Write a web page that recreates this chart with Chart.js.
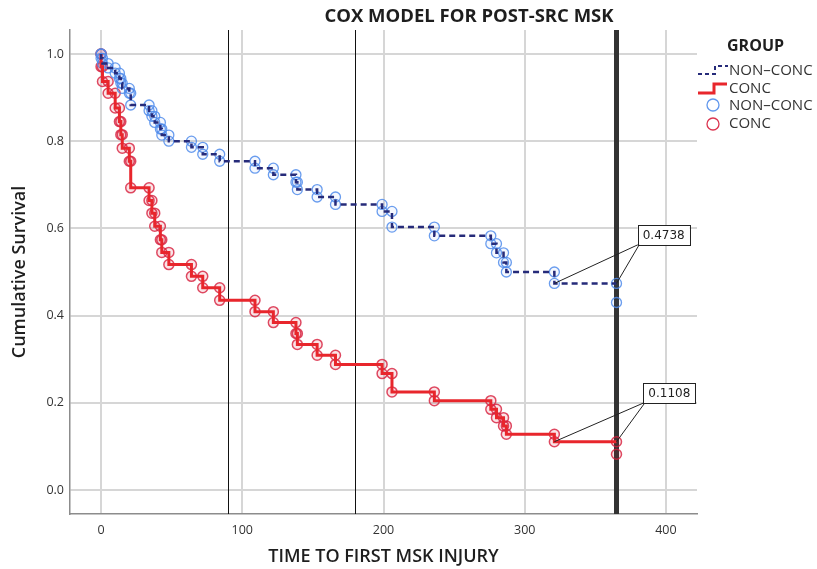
<!DOCTYPE html>
<html>
<head>
<meta charset="utf-8">
<script src="https://cdn.jsdelivr.net/npm/chart.js@4/dist/chart.umd.min.js"></script>
<style>
  html, body { margin: 0; padding: 0; background: #fff; }
  #wrap { width: 817px; height: 569px; position: relative; }
</style>
</head>
<body>
<div id="wrap"><canvas id="cox"></canvas></div>
<script>
// event times (days) and cumulative survival after each drop
const times = [0, 1, 5, 10, 13, 14, 15, 20, 21, 34, 36, 38, 42, 43, 48, 64, 72, 84, 109, 122, 138, 139, 153, 166, 199, 206, 236, 276, 280, 285, 287, 321];
const nonConc = [0.990, 0.978, 0.968, 0.956, 0.944, 0.933, 0.921, 0.910, 0.883, 0.870, 0.857, 0.843, 0.828, 0.814, 0.800, 0.786, 0.770, 0.754, 0.738, 0.723, 0.706, 0.689, 0.672, 0.655, 0.639, 0.603, 0.583, 0.565, 0.544, 0.522, 0.500, 0.4738];
const conc = [0.971, 0.937, 0.910, 0.876, 0.845, 0.815, 0.784, 0.754, 0.693, 0.664, 0.635, 0.605, 0.574, 0.545, 0.517, 0.490, 0.464, 0.435, 0.409, 0.384, 0.359, 0.334, 0.309, 0.288, 0.267, 0.225, 0.205, 0.185, 0.166, 0.147, 0.128, 0.1108];
const followUp = 365;
const nonConcEnd = [0.4738, 0.43];
const concEnd = [0.1108, 0.082];
const refLines = [90, 180];
const xTicks = [0, 100, 200, 300, 400];
const yTicks = [0.0, 0.2, 0.4, 0.6, 0.8, 1.0];
const labels = ["0.4738", "0.1108"];

const stepData = (s) => {
  let d = [{ x: 0, y: 1.0 }];
  times.forEach((t, i) => d.push({ x: t, y: s[i] }));
  d.push({ x: followUp, y: s[s.length - 1] });
  return d;
};
const circleData = (s, end) => {
  let d = [{ x: 0, y: 1.0 }];
  times.forEach((t, i) => {
    d.push({ x: t, y: i == 0 ? 1.0 : s[i - 1] });
    d.push({ x: t, y: s[i] });
  });
  end.forEach((v) => d.push({ x: followUp, y: v }));
  return d;
};

const navy = "#262b7a";
const red = "#e8262c";
const font = "'Open Sans', 'DejaVu Sans', sans-serif";

const overlay = {
  id: "overlay",
  beforeDatasetsDraw(chart) {
    const { ctx, chartArea: { top, bottom }, scales: { x } } = chart;
    ctx.save();
    ctx.strokeStyle = "#111";
    ctx.lineWidth = 1;
    refLines.forEach((v) => {
      const px = Math.round(x.getPixelForValue(v)) + 0.5;
      ctx.beginPath();
      ctx.moveTo(px, top);
      ctx.lineTo(px, bottom);
      ctx.stroke();
    });
    ctx.strokeStyle = "#333";
    ctx.lineWidth = 5;
    const fx = x.getPixelForValue(followUp);
    ctx.beginPath();
    ctx.moveTo(fx, top);
    ctx.lineTo(fx, bottom);
    ctx.stroke();
    ctx.restore();
  },
  afterDatasetsDraw(chart) {
    const { ctx, scales: { x, y } } = chart;
    ctx.save();
    // value boxes
    const boxes = [
      { s: nonConc, txt: labels[0], bx: 380, by: 0.608 },
      { s: conc, txt: labels[1], bx: 384, by: 0.245 },
    ];
    ctx.font = "12px 'DejaVu Sans', sans-serif";
    boxes.forEach((b) => {
      const last = b.s[b.s.length - 1];
      const left = x.getPixelForValue(b.bx);
      const top = y.getPixelForValue(b.by);
      const w = ctx.measureText(b.txt).width + 10;
      const h = 20;
      ctx.strokeStyle = "#222";
      ctx.lineWidth = 1;
      ctx.beginPath();
      ctx.moveTo(left + 2, top + h - 1);
      ctx.lineTo(x.getPixelForValue(times[times.length - 1]), y.getPixelForValue(last));
      ctx.moveTo(left + 2, top + h - 1);
      ctx.lineTo(x.getPixelForValue(followUp), y.getPixelForValue(last));
      ctx.stroke();
      ctx.fillStyle = "#fff";
      ctx.fillRect(left, top, w, h);
      ctx.strokeRect(Math.round(left) + 0.5, Math.round(top) + 0.5, w, h);
      ctx.fillStyle = "#222";
      ctx.textBaseline = "middle";
      ctx.textAlign = "left";
      ctx.fillText(b.txt, left + 5, top + h / 2 + 1);
    });
    ctx.restore();
  },
  afterDraw(chart) {
    const { ctx } = chart;
    ctx.save();
    // title
    ctx.fillStyle = "#1e1e1e";
    ctx.font = `700 18.5px ${font}`;
    ctx.textAlign = "center";
    ctx.textBaseline = "middle";
    ctx.fillText("COX MODEL FOR POST-SRC MSK", 469, 17);
    // legend
    ctx.textAlign = "left";
    ctx.font = `700 16px ${font}`;
    ctx.fillText("GROUP", 727, 46);
    ctx.font = `15px ${font}`;
    ctx.fillStyle = "#333";
    ctx.fillText("NON\u2013CONC", 729, 71);
    ctx.fillText("CONC", 729, 89);
    ctx.fillText("NON\u2013CONC", 729, 106);
    ctx.fillText("CONC", 729, 124);
    ctx.lineWidth = 2;
    ctx.strokeStyle = navy;
    ctx.setLineDash([4, 3]);
    ctx.beginPath();
    ctx.moveTo(698, 74);
    ctx.lineTo(715, 74);
    ctx.lineTo(715, 66);
    ctx.lineTo(728, 66);
    ctx.stroke();
    ctx.setLineDash([]);
    ctx.lineWidth = 3;
    ctx.strokeStyle = red;
    ctx.beginPath();
    ctx.moveTo(698, 93);
    ctx.lineTo(714, 93);
    ctx.lineTo(714, 84);
    ctx.lineTo(727, 84);
    ctx.stroke();
    ctx.lineWidth = 1.3;
    ctx.strokeStyle = "rgba(80,140,235,0.9)";
    ctx.beginPath();
    ctx.arc(713, 105, 6, 0, Math.PI * 2);
    ctx.stroke();
    ctx.strokeStyle = "rgba(215,30,60,0.9)";
    ctx.beginPath();
    ctx.arc(713, 124, 6, 0, Math.PI * 2);
    ctx.stroke();
    ctx.restore();
  },
};

new Chart(document.getElementById("cox"), {
  type: "line",
  data: {
    datasets: [
      {
        label: "NON-CONC",
        data: stepData(nonConc),
        stepped: true,
        borderColor: navy,
        borderWidth: 2.5,
        borderDash: [6, 4],
        pointRadius: 0,
        fill: false,
      },
      {
        label: "CONC",
        data: stepData(conc),
        stepped: true,
        borderColor: red,
        borderWidth: 3,
        pointRadius: 0,
        fill: false,
      },
      {
        label: "NON-CONC",
        type: "scatter",
        data: circleData(nonConc, nonConcEnd),
        showLine: false,
        pointRadius: 5,
        pointBorderWidth: 1.3,
        borderColor: "rgba(80,140,235,0.85)",
        backgroundColor: "rgba(80,140,235,0.06)",
      },
      {
        label: "CONC",
        type: "scatter",
        data: circleData(conc, concEnd),
        showLine: false,
        pointRadius: 5,
        pointBorderWidth: 1.5,
        borderColor: "rgba(215,30,60,0.8)",
        backgroundColor: "rgba(215,30,60,0.12)",
      },
    ],
  },
  options: {
    responsive: true,
    maintainAspectRatio: false,
    animation: false,
    layout: { padding: { left: 0, right: 120, top: 30, bottom: 0 } },
    plugins: {
      legend: { display: false },
      title: { display: false },
      tooltip: { enabled: false },
    },
    scales: {
      x: {
        type: "linear",
        min: -22,
        max: 422,
        afterBuildTicks: (s) => { s.ticks = xTicks.map((v) => ({ value: v })); },
        afterFit: (s) => { s.height = 55; },
        grid: { color: "#d6d6d6", lineWidth: 2, drawTicks: false },
        border: { color: "#8c8c8c", width: 1.5 },
        ticks: { padding: 9, color: "#333", font: { size: 12.5, family: font } },
        title: {
          display: true,
          text: "TIME TO FIRST MSK INJURY",
          color: "#1e1e1e",
          font: { size: 18, weight: "600", family: font },
          padding: { top: 0, bottom: 1 },
        },
      },
      y: {
        type: "linear",
        min: -0.055,
        max: 1.055,
        afterBuildTicks: (s) => { s.ticks = yTicks.map((v) => ({ value: v })); },
        afterFit: (s) => { s.width = 70; },
        grid: { color: "#d6d6d6", lineWidth: 2, drawTicks: false },
        border: { color: "#8c8c8c", width: 1.5 },
        ticks: { padding: 6, color: "#333", font: { size: 12.5, family: font }, callback: (v) => v.toFixed(1) },
        title: {
          display: true,
          text: "Cumulative Survival",
          color: "#1e1e1e",
          font: { size: 18, weight: "600", family: font },
          padding: { top: 9, bottom: 0 },
        },
      },
    },
  },
  plugins: [overlay],
});
</script>
</body>
</html>
